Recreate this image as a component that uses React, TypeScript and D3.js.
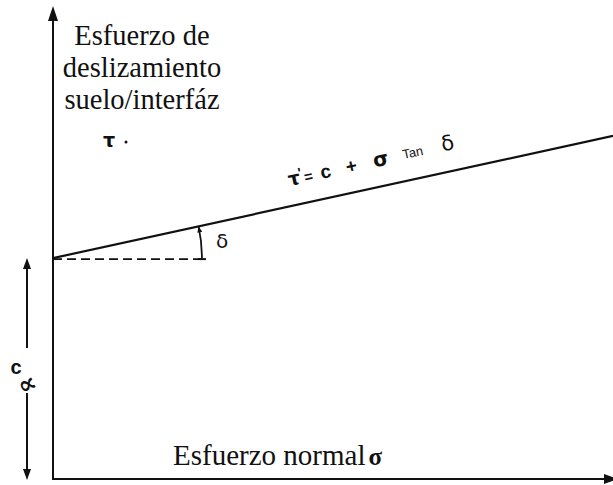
import React from "react";
import * as d3 from "d3";

// Axis extents in data units (normal stress σ, shear stress τ)
const SIGMA_DOMAIN = [0, 10];
const TAU_DOMAIN = [0, 10];

// Failure envelope τ' = c + σ·tan δ, given by its two end points
const LINE_SIGMA = [0, 10];
const LINE_TAU = [4.7, 7.3];

// Reference (dashed) line for the angle δ ends here
const DASH_END_SIGMA = 2.75;
// Arc that marks δ, radius in σ units
const ARC_RADIUS_SIGMA = 2.66;
// Where the equation sits along the envelope
const FORMULA_SIGMA = 4.3;

const Y_TITLE = ["Esfuerzo de", "deslizamiento", "suelo/interfáz"];
const X_TITLE = "Esfuerzo normal";

const W = 613;
const H = 485;
const INK = "#111";
const SERIF = "'Liberation Serif', 'Times New Roman', serif";
const SANS = "'Liberation Sans', Arial, sans-serif";
const DSANS = "'DejaVu Sans', sans-serif";

function arrowHead(tx: number, ty: number, dx: number, dy: number, len: number, half: number) {
  const n = Math.hypot(dx, dy);
  const ux = dx / n, uy = dy / n;
  const bx = tx - ux * len, by = ty - uy * len;
  const px = -uy * half, py = ux * half;
  return `M${tx},${ty}L${bx + px},${by + py}L${bx - px},${by - py}Z`;
}

export default function App() {
  const x = d3.scaleLinear().domain(SIGMA_DOMAIN).range([53, 613]);
  const y = d3.scaleLinear().domain(TAU_DOMAIN).range([479, 9]);

  const pts = LINE_SIGMA.map((s, i) => [x(s), y(LINE_TAU[i])] as [number, number]);
  const envelope = d3.line()(pts) || "";

  const cx = x(LINE_SIGMA[0]);
  const cy = y(LINE_TAU[0]);
  const theta = Math.atan2(pts[0][1] - pts[1][1], pts[1][0] - pts[0][0]);
  const thetaDeg = (theta * 180) / Math.PI;

  const r = x(ARC_RADIUS_SIGMA) - x(0);
  const arc = d3.path();
  arc.moveTo(cx + r, cy);
  arc.arc(cx, cy, r, 0, -theta, true);
  const topX = cx + r * Math.cos(theta);
  const topY = cy - r * Math.sin(theta);

  const slopeTau = (LINE_TAU[1] - LINE_TAU[0]) / (LINE_SIGMA[1] - LINE_SIGMA[0]);
  const fx = x(FORMULA_SIGMA);
  const fy = y(LINE_TAU[0] + slopeTau * FORMULA_SIGMA);
  const off = 20;
  const ax = fx - off * Math.sin(theta);
  const ay = fy - off * Math.cos(theta);

  const x0 = x(SIGMA_DOMAIN[0]);
  const yBase = y(TAU_DOMAIN[0]);
  const dimX = 27;

  return (
    <svg width={W} height={H} style={{ position: "fixed", left: 0, top: 0, background: "#fff" }}>
      <rect width={W} height={H} fill="#fff" />
      {/* axes */}
      <line x1={x0} y1={yBase + 1} x2={x0} y2={14} stroke={INK} strokeWidth={2} />
      <path d={arrowHead(x0, 6, 0, -1, 15, 5)} fill={INK} />
      <line x1={x0 - 1} y1={yBase} x2={W} y2={yBase} stroke={INK} strokeWidth={2} />
      <path d={arrowHead(618, yBase, 1, 0, 14, 5)} fill={INK} />

      {/* envelope */}
      <path d={envelope} stroke={INK} strokeWidth={2.2} fill="none" />
      <line x1={cx} y1={cy + 1} x2={x(DASH_END_SIGMA)} y2={cy + 1} stroke={INK} strokeWidth={1.6} strokeDasharray="9,5" />

      {/* δ arc */}
      <path d={arc.toString()} stroke={INK} strokeWidth={1.8} fill="none" />
      <path d={arrowHead(topX, topY, -Math.sin(theta), -Math.cos(theta), 6, 2.5)} fill={INK} />
      <line x1={cx + r - 4} y1={cy + 1} x2={cx + r + 4} y2={cy + 1} stroke={INK} strokeWidth={2} />
      <text x={cx + r + 14} y={248} fontFamily={DSANS} fontSize={20} fill={INK}>δ</text>

      {/* equation along the envelope */}
      <g transform={`translate(${ax},${ay}) rotate(${-thetaDeg})`} fill={INK} fontWeight="bold">
        <text x={0} y={0} fontFamily={DSANS} fontSize={19}>τ</text>
        <text x={11} y={-6} fontFamily={SANS} fontSize={14}>'</text>
        <text x={16} y={0} fontFamily={SANS} fontSize={15}>=</text>
        <text x={33} y={0} fontFamily={SANS} fontSize={19}>c</text>
        <text x={59} y={0} fontFamily={SANS} fontSize={19}>+</text>
        <text x={87} y={0} fontFamily={DSANS} fontSize={20}>σ</text>
        <text x={117} y={-2} fontFamily={SANS} fontSize={13} fontWeight="normal">Tan</text>
        <text x={157} y={-1} fontFamily={DSANS} fontSize={21} fontWeight="normal">δ</text>
      </g>

      {/* y title */}
      {Y_TITLE.map((t, i) => (
        <text key={t} x={142} y={45 + i * 32} textAnchor="middle" fontFamily={SERIF} fontSize={28.5} fill={INK}>
          {t}
        </text>
      ))}
      <text x={103} y={147} fontFamily={DSANS} fontWeight="bold" fontSize={19} fill={INK}>τ</text>
      <circle cx={126} cy={142} r={1.5} fill={INK} />

      {/* x title */}
      <text x={173} y={465} fontFamily={SERIF} fontSize={29} fill={INK}>
        {X_TITLE}
        <tspan dx={3} fontSize={25} fontWeight="bold">σ</tspan>
      </text>

      {/* dimension arrow for c */}
      <line x1={dimX} y1={cy + 6} x2={dimX} y2={348} stroke={INK} strokeWidth={2} />
      <path d={arrowHead(dimX, cy, 0, -1, 11, 4)} fill={INK} />
      <line x1={dimX} y1={393} x2={dimX} y2={yBase - 6} stroke={INK} strokeWidth={2} />
      <path d={arrowHead(dimX, yBase + 1, 0, 1, 11, 4)} fill={INK} />
      <text x={16} y={374} textAnchor="middle" fontFamily={SANS} fontWeight="bold" fontSize={20} fill={INK}>c</text>
      <text transform="translate(27,384) rotate(-25)" textAnchor="middle" dominantBaseline="central" fontFamily={DSANS} fontWeight="bold" fontSize={25} fill={INK}>∝</text>
    </svg>
  );
}
